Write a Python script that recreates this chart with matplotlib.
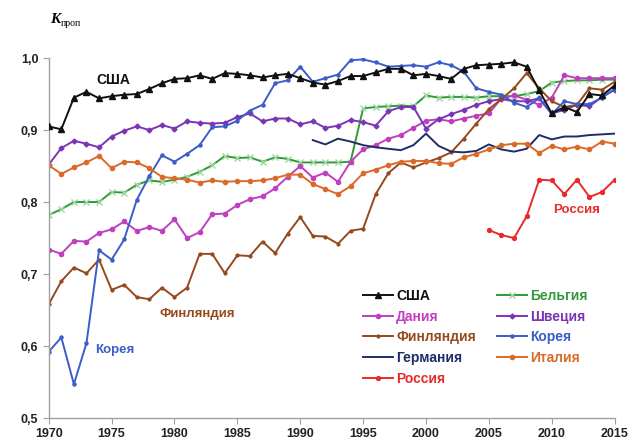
import numpy as np
import matplotlib
matplotlib.use("Agg")
import matplotlib.pyplot as plt

plt.rcParams['font.family'] = ['Liberation Sans', 'DejaVu Sans']

## data
years = list(range(1970, 2016))
usa = [0.905, 0.901, 0.945, 0.953, 0.944, 0.947, 0.949, 0.950, 0.957, 0.965,
       0.971, 0.972, 0.976, 0.971, 0.979, 0.978, 0.976, 0.973, 0.976, 0.978,
       0.972, 0.966, 0.963, 0.968, 0.975, 0.975, 0.980, 0.985, 0.985, 0.976,
       0.978, 0.975, 0.971, 0.985, 0.990, 0.991, 0.992, 0.994, 0.988, 0.955,
       0.923, 0.932, 0.925, 0.950, 0.948, 0.962]
belgium = [0.782, 0.790, 0.800, 0.800, 0.800, 0.814, 0.813, 0.824, 0.830, 0.828,
           0.831, 0.835, 0.842, 0.851, 0.864, 0.861, 0.862, 0.856, 0.862, 0.860,
           0.855, 0.855, 0.855, 0.855, 0.856, 0.930, 0.932, 0.933, 0.934, 0.933,
           0.948, 0.945, 0.946, 0.946, 0.945, 0.947, 0.947, 0.947, 0.950, 0.954,
           0.966, 0.968, 0.969, 0.969, 0.970, 0.970]
denmark = [0.734, 0.728, 0.746, 0.745, 0.757, 0.762, 0.773, 0.760, 0.765, 0.760,
           0.776, 0.750, 0.758, 0.783, 0.784, 0.796, 0.804, 0.808, 0.819, 0.835,
           0.850, 0.834, 0.841, 0.828, 0.856, 0.873, 0.879, 0.888, 0.893, 0.903,
           0.913, 0.915, 0.912, 0.916, 0.920, 0.923, 0.944, 0.948, 0.942, 0.935,
           0.945, 0.976, 0.972, 0.972, 0.972, 0.972]
sweden = [0.852, 0.875, 0.885, 0.881, 0.876, 0.891, 0.899, 0.905, 0.900, 0.907,
          0.902, 0.912, 0.910, 0.909, 0.910, 0.918, 0.923, 0.912, 0.916, 0.916,
          0.908, 0.912, 0.903, 0.906, 0.914, 0.911, 0.906, 0.926, 0.932, 0.932,
          0.902, 0.915, 0.922, 0.928, 0.935, 0.940, 0.943, 0.940, 0.940, 0.944,
          0.923, 0.928, 0.935, 0.933, 0.946, 0.956]
finland = [0.658, 0.690, 0.709, 0.701, 0.720, 0.678, 0.685, 0.668, 0.665, 0.681,
           0.668, 0.681, 0.728, 0.728, 0.701, 0.726, 0.725, 0.745, 0.729, 0.756,
           0.779, 0.753, 0.752, 0.742, 0.760, 0.763, 0.811, 0.840, 0.855, 0.848,
           0.855, 0.861, 0.869, 0.888, 0.909, 0.929, 0.943, 0.958, 0.979, 0.958,
           0.940, 0.932, 0.935, 0.958, 0.956, 0.967]
korea = [0.592, 0.612, 0.547, 0.604, 0.733, 0.720, 0.748, 0.803, 0.836, 0.865,
         0.856, 0.867, 0.879, 0.904, 0.905, 0.913, 0.927, 0.935, 0.965, 0.969,
         0.988, 0.967, 0.972, 0.977, 0.997, 0.998, 0.994, 0.988, 0.989, 0.990,
         0.988, 0.994, 0.990, 0.981, 0.958, 0.953, 0.949, 0.938, 0.932, 0.944,
         0.922, 0.940, 0.936, 0.936, 0.945, 0.957]
germany_years = list(range(1991, 2016))
germany = [0.886, 0.880, 0.888, 0.884, 0.879, 0.876, 0.874, 0.872, 0.879, 0.895,
           0.878, 0.870, 0.869, 0.871, 0.880, 0.873, 0.870, 0.874, 0.893, 0.887,
           0.891, 0.891, 0.893, 0.894, 0.895]
italy = [0.851, 0.839, 0.848, 0.855, 0.864, 0.847, 0.856, 0.855, 0.847, 0.835,
         0.833, 0.831, 0.827, 0.830, 0.828, 0.829, 0.829, 0.830, 0.833, 0.838,
         0.838, 0.825, 0.818, 0.811, 0.822, 0.840, 0.845, 0.851, 0.856, 0.857,
         0.857, 0.854, 0.853, 0.862, 0.867, 0.873, 0.879, 0.881, 0.881, 0.868,
         0.878, 0.873, 0.877, 0.873, 0.884, 0.881]
russia_years = list(range(2005, 2016))
russia = [0.761, 0.754, 0.750, 0.780, 0.831, 0.830, 0.811, 0.831, 0.807, 0.814, 0.831]

c_usa = '#111111'
c_bel = '#2f9a3a'
c_den = '#c03fbf'
c_swe = '#7b34b5'
c_fin = '#95491c'
c_kor = '#3b5cc9'
c_ger = '#1f2d66'
c_ita = '#db6a28'
c_rus = '#ea2a2a'

fig = plt.figure(figsize=(6.33, 4.43), dpi=100)
ax = fig.add_axes([0.077, 0.0564, 0.894, 0.8126])

lw = 1.4
h_usa, = ax.plot(years, usa, color=c_usa, lw=lw, marker='^', ms=4.5, label='США', zorder=9)
h_bel, = ax.plot(years, belgium, color=c_bel, lw=lw, marker='x', ms=4, mec='#9bd89b',
                 mew=1.0, label='Бельгия')
h_den, = ax.plot(years, denmark, color=c_den, lw=lw, marker='o', ms=3, label='Дания')
h_swe, = ax.plot(years, sweden, color=c_swe, lw=lw, marker='D', ms=2.5, label='Швеция')
h_fin, = ax.plot(years, finland, color=c_fin, lw=lw, marker='o', ms=2, label='Финляндия')
h_kor, = ax.plot(years, korea, color=c_kor, lw=lw, marker='o', ms=2.2, label='Корея')
h_ger, = ax.plot(germany_years, germany, color=c_ger, lw=lw, label='Германия')
h_ita, = ax.plot(years, italy, color=c_ita, lw=lw, marker='o', ms=3, label='Италия')
h_rus, = ax.plot(russia_years, russia, color=c_rus, lw=lw, marker='o', ms=2.8, label='Россия')

ax.set_xlim(1970, 2015)
ax.set_ylim(0.5, 1.0)
ax.set_xticks(range(1970, 2016, 5))
ax.set_yticks([0.5, 0.6, 0.7, 0.8, 0.9, 1.0])
ax.set_yticklabels(['0,5', '0,6', '0,7', '0,8', '0,9', '1,0'])
for s in ['top', 'right']:
    ax.spines[s].set_visible(False)
for s in ['left', 'bottom']:
    ax.spines[s].set_color('#a0a0a0')
    ax.spines[s].set_linewidth(1.0)
ax.tick_params(axis='both', colors='#a0a0a0', length=4, labelcolor='#222222',
               labelsize=9)
for t in ax.get_xticklabels() + ax.get_yticklabels():
    t.set_fontweight('bold')

# labels on the lines
ax.text(1973.8, 0.969, 'США', color=c_usa, fontsize=10, fontweight='bold', va='center')
ax.text(1973.7, 0.594, 'Корея', color=c_kor, fontsize=9.5, fontweight='bold', va='center')
ax.text(1978.8, 0.645, 'Финляндия', color=c_fin, fontsize=9.5, fontweight='bold', va='center')
ax.text(2010.1, 0.789, 'Россия', color=c_rus, fontsize=9.5, fontweight='bold', va='center')

# y axis title K_проп
fig.text(0.079, 0.955, 'K', fontsize=11, fontstyle='italic', fontweight='bold',
         family='Liberation Serif', va='center')
fig.text(0.096, 0.946, 'проп', fontsize=7, family='Liberation Serif', va='center')

handles = [h_usa, h_den, h_fin, h_ger, h_rus, h_bel, h_swe, h_kor, h_ita]
leg = ax.legend(handles=handles, ncol=2, frameon=False, loc='upper left',
                bbox_to_anchor=(0.573, 0.348), bbox_transform=fig.transFigure,
                prop={'weight': 'bold', 'size': 10}, handlelength=2.2,
                handletextpad=0.2, labelspacing=0.48, columnspacing=1.5,
                borderpad=0, borderaxespad=0)
for h, t in zip(handles, leg.get_texts()):
    t.set_color(h.get_color())

fig.savefig('out.png', dpi=100)
